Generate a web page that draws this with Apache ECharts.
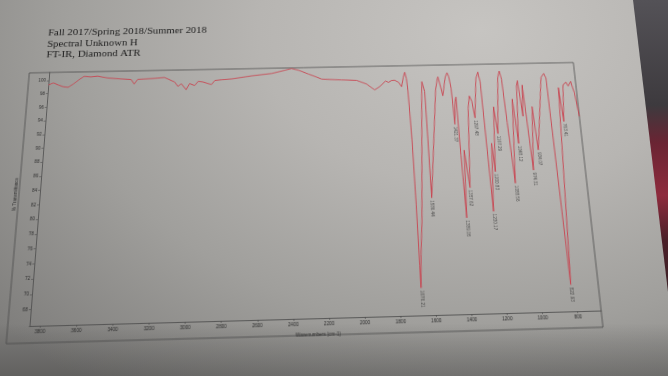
<!DOCTYPE html>
<html><head><meta charset="utf-8">
<script src="https://cdn.jsdelivr.net/npm/echarts@6/dist/echarts.min.js"></script>
<style>
html,body{margin:0;padding:0;width:668px;height:376px;overflow:hidden;}
body{position:relative;background:radial-gradient(ellipse 95% 120% at 72% 8%, #c6c4c1 0%, #b7b5b2 35%, #a09f9c 66%, #7f7e7c 100%);}
#shade{position:absolute;left:0;top:0;width:668px;height:376px;background:linear-gradient(to bottom, rgba(0,0,0,0) 0%, rgba(0,0,0,0) 86%, rgba(30,30,30,0.12) 91%, rgba(20,20,20,0.28) 100%);}
#dark{position:absolute;left:0;top:0;width:668px;height:376px;clip-path:polygon(633px 0,668px 0,668px 292px);background:linear-gradient(to bottom,#545257 0%,#3d3a3e 28%,#6a2433 38%,#8e2b3d 52%,#4a1f28 64%,#262325 100%);}
#paper{position:absolute;left:0;top:0;width:668px;height:376px;transform-origin:0 0;}
</style></head><body>
<div id="shade"></div><div id="dark"></div><div id="paper"></div>
<script>
// ---- data ----
const wavenumbers = [3858,3830,3800,3769,3739,3709,3678,3648,3608,3567,3506,3426,3365,3345,3325,3226,3165,3103,3082,3062,3032,3012,2982,2961,2931,2881,2861,2820,2759,2638,2517,2438,2396,2353,2293,2214,2093,2002,1942,1894,1863,1827,1809,1791,1771,1748,1730,1718,1707,1699,1693,1684,1679,1677,1676.21,1666,1651,1630,1612,1606,1598,1592,1589,1586.44,1553,1525,1511,1506,1502,1483,1462,1449,1440,1430,1421.37,1412,1404,1398,1389.05,1377,1357.62,1335,1323,1310,1297.48,1275,1260,1250,1230.17,1210,1200.83,1181,1167.29,1140,1128,1118,1106,1088.56,1063,1048.12,1030,1022,1007,995,974.31,947,934.07,875,856,845,822.93,775,763.41,745,725,714,696,680,666];
const transmittance = [99.3,99.6,99.3,99.0,98.9,99.4,100.0,100.5,100.4,100.5,100.2,100.0,99.9,99.2,99.9,100.0,100.1,99.4,98.7,99.1,98.2,99.1,98.8,99.4,99.3,98.9,99.5,99.6,99.7,100.1,100.4,100.85,101.1,100.8,100.2,99.4,99.2,99.1,98.5,97.6,98.1,98.9,98.7,98.95,99.0,98.7,98.0,99.4,100.2,99.2,97.3,90.2,80.8,72.5,69.5,74.0,78.4,87.8,96.3,98.7,98.6,97.2,90.2,81.7,90.2,97.4,99.1,99.4,99.2,96.5,99.3,100.0,99.4,97.6,92.2,95.6,96.3,87.7,78.8,88.4,83.0,94.5,96.4,95.6,93.1,99.0,100.0,98.5,79.6,89.3,85.2,94.7,90.7,99.2,100.1,98.8,92.3,83.5,95.8,89.2,97.8,98.6,93.2,97.9,85.3,94.6,88.2,99.0,99.6,98.9,69.4,97.4,92.3,97.8,98.2,97.6,98.3,96.5,93.0];
const peakWavenumbers = [1676.21,1586.44,1421.37,1389.05,1357.62,1297.48,1230.17,1200.83,1167.29,1088.56,1048.12,974.31,934.07,822.93,763.41];
const peakTransmittance = [69.5,81.7,92.2,78.8,83.0,93.1,79.6,85.2,90.7,83.5,89.2,85.3,88.2,69.4,92.3];
const xTickLabels = [3800,3600,3400,3200,3000,2800,2600,2400,2200,2000,1800,1600,1400,1200,1000,800];
const yTickLabels = [68,70,72,74,76,78,80,82,84,86,88,90,92,94,96,98,100];
const titleLines = ['Fall 2017/Spring 2018/Summer 2018','Spectral Unknown H','FT-IR, Diamond ATR'];
const xAxisTitle = 'Wavenumbers (cm-1)';
const yAxisTitle = '% Transmittance';

// ---- photo perspective (layout only): map flat plot corners to photographed corners ----
function homography(src, dst){
  const A=[], b=[];
  for(let i=0;i<4;i++){
    const x=src[i][0], y=src[i][1], u=dst[i][0], v=dst[i][1];
    A.push([x,y,1,0,0,0,-x*u,-y*u]); b.push(u);
    A.push([0,0,0,x,y,1,-x*v,-y*v]); b.push(v);
  }
  const n=8;
  for(let c=0;c<n;c++){
    let p=c; for(let r=c+1;r<n;r++) if(Math.abs(A[r][c])>Math.abs(A[p][c])) p=r;
    let t=A[c];A[c]=A[p];A[p]=t; t=b[c];b[c]=b[p];b[p]=t;
    for(let r=0;r<n;r++){ if(r===c) continue; const f=A[r][c]/A[c][c]; for(let k=c;k<n;k++) A[r][k]-=f*A[c][k]; b[r]-=f*b[c]; }
  }
  return b.map((v,i)=>v/A[i][i]);
}
const G = {left:40, top:60, width:560, height:260};
const flat = [[G.left,G.top],[G.left+G.width,G.top],[G.left+G.width,G.top+G.height],[G.left,G.top+G.height]];
const photo = [[49.3,72.5],[573.3,62.5],[601.1,310.5],[29.5,326]];
const h = homography(flat, photo);
document.getElementById('paper').style.transform =
  'matrix3d('+[h[0],h[3],0,h[6], h[1],h[4],0,h[7], 0,0,1,0, h[2],h[5],0,1].join(',')+')';

const chart = echarts.init(document.getElementById('paper'), null, {renderer:'canvas', width:668, height:376});
const axisCol = '#4a4a4a', txtCol = '#2e2e2e', small = 4.6;
chart.setOption({
  animation:false,
  backgroundColor:'transparent',
  title:{text:titleLines.join('\n'), left:30.5, top:3.5,
    textStyle:{fontFamily:'Liberation Serif', fontSize:11.4, fontWeight:'normal', color:'#1c1c1c', lineHeight:12.8}},
  grid:{left:G.left, top:G.top, width:G.width, height:G.height, show:false},
  graphic:[{type:'rect', shape:{x:19, y:G.top, width:G.left+G.width-19, height:276}, silent:true,
    style:{fill:'none', stroke:axisCol, lineWidth:0.8}}],
  xAxis:{type:'value', inverse:true, min:666, max:3859,
    name:xAxisTitle, nameLocation:'middle', nameGap:12,
    nameTextStyle:{fontSize:small, color:txtCol, fontFamily:'Liberation Sans'},
    axisLine:{show:true, onZero:false, lineStyle:{color:axisCol, width:0.8}},
    axisTick:{show:true, length:2, customValues:xTickLabels, lineStyle:{color:axisCol, width:0.6}},
    axisLabel:{customValues:xTickLabels, formatter:v=>String(v), fontSize:small, margin:3, color:txtCol, fontFamily:'Liberation Sans'},
    splitLine:{show:false}},
  yAxis:{type:'value', min:65.9, max:101.2,
    name:yAxisTitle, nameLocation:'middle', nameGap:15, nameRotate:90,
    nameTextStyle:{fontSize:small, color:txtCol, fontFamily:'Liberation Sans'},
    axisLine:{show:true, onZero:false, lineStyle:{color:axisCol, width:0.8}},
    axisTick:{show:true, length:2, customValues:yTickLabels, lineStyle:{color:axisCol, width:0.6}},
    axisLabel:{customValues:yTickLabels, formatter:v=>String(v), fontSize:small, margin:3, color:txtCol, fontFamily:'Liberation Sans'},
    splitLine:{show:false}},
  series:[
    {type:'line', data:wavenumbers.map((w,i)=>[w,transmittance[i]]), showSymbol:false, z:3,
      lineStyle:{color:'#c8414d', width:0.9}},
    {type:'scatter', data:peakWavenumbers.map((w,i)=>[w,peakTransmittance[i]]), symbolSize:1, z:4,
      itemStyle:{color:'rgba(0,0,0,0)'},
      label:{show:true, position:'bottom', distance:2, rotate:-90, align:'left', verticalAlign:'middle',
        fontSize:small, color:'#333', fontFamily:'Liberation Sans',
        formatter:p=>p.value[0].toFixed(2)}}
  ]
});
</script>
</body></html>
